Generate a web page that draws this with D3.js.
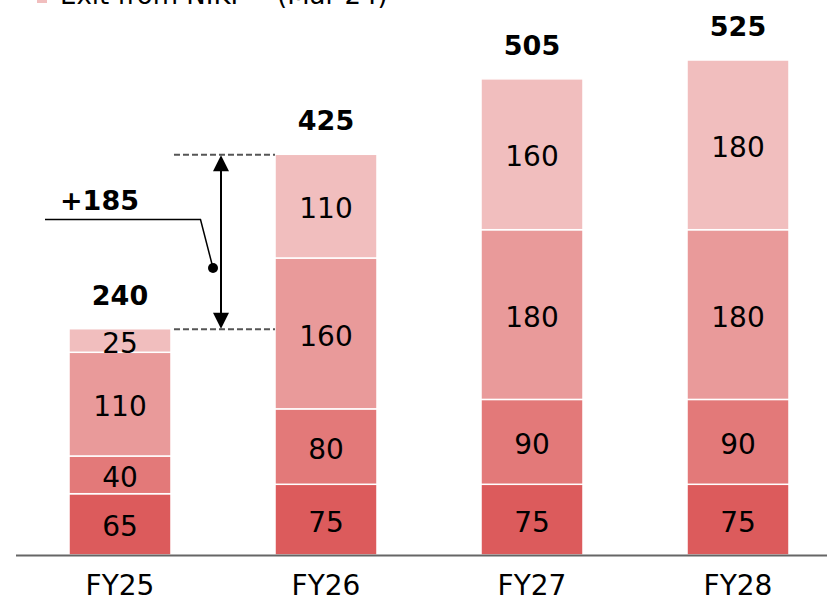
<!DOCTYPE html>
<html><head><meta charset="utf-8">
<script src="https://cdn.jsdelivr.net/npm/d3@7"></script>
<style>html,body{margin:0;padding:0;background:#fff;}svg{display:block;}</style>
</head><body>
<svg id="c" width="827" height="600"></svg>
<script>
const categories = ["FY25", "FY26", "FY27", "FY28"];
const seriesNames = ["s1", "s2", "s3", "Exit from NIKI"];
const s1 = [65, 75, 75, 75];
const s2 = [40, 80, 90, 90];
const s3 = [110, 160, 180, 180];
const s4 = [25, 110, 160, 180];
const totals = [240, 425, 505, 525];
const deltaLabel = "+185";
const legendLabel = "Exit from NIKI";
const legendNote = "(Mar 24)";
const colors = ["#dc5b5c", "#e37979", "#e99a9a", "#f1bebe"];

const svg = d3.select("#c");
const font = "'DejaVu Sans', Verdana, sans-serif";
const rows = categories.map((c, i) => ({cat: c, s1: s1[i], s2: s2[i], s3: s3[i], s4: s4[i]}));
const stack = d3.stack().keys(["s1", "s2", "s3", "s4"])(rows);

const x = d3.scaleBand().domain(categories).range([17, 841]).paddingInner(0.505).paddingOuter(0.2525);
const y = d3.scaleLinear().domain([0, 525]).range([555, 60]);

// bars
const g = svg.append("g");
stack.forEach((layer, li) => {
  g.selectAll(null).data(layer).enter().append("rect")
    .attr("x", d => x(d.data.cat))
    .attr("width", x.bandwidth())
    .attr("y", d => y(d[1]))
    .attr("height", d => y(d[0]) - y(d[1]))
    .attr("fill", colors[li])
    .attr("stroke", "#fff").attr("stroke-width", 1.5);
  g.selectAll(null).data(layer).enter().append("text")
    .attr("x", d => x(d.data.cat) + x.bandwidth() / 2)
    .attr("y", d => (y(d[0]) + y(d[1])) / 2 + 2)
    .attr("dy", "0.36em")
    .attr("text-anchor", "middle")
    .style("font-family", font).style("font-size", "28px").attr("fill", "#000")
    .text(d => d[1] - d[0]);
});

// totals
svg.selectAll(null).data(categories).enter().append("text")
  .attr("x", c => x(c) + x.bandwidth() / 2)
  .attr("y", (c, i) => y(totals[i]) - 24)
  .attr("text-anchor", "middle")
  .style("font-family", font).style("font-size", "27px").style("font-weight", "bold")
  .text((c, i) => totals[i]);

// axis
svg.append("line").attr("x1", 16).attr("x2", 827).attr("y1", 555.5).attr("y2", 555.5)
  .attr("stroke", "#666").attr("stroke-width", 2);
svg.selectAll(null).data(categories).enter().append("text")
  .attr("x", c => x(c) + x.bandwidth() / 2)
  .attr("y", 595)
  .attr("text-anchor", "middle")
  .style("font-family", font).style("font-size", "28px")
  .text(c => c);

// annotation
const xa0 = x("FY25") + x.bandwidth() + 3, xa1 = x("FY26");
const yTop = y(totals[1]), yBot = y(totals[0]);
[yTop, yBot].forEach(yy => svg.append("line").attr("x1", xa0).attr("x2", xa1)
  .attr("y1", yy + 0.5).attr("y2", yy + 0.5)
  .attr("stroke", "#555").attr("stroke-width", 2).attr("stroke-dasharray", "6,3"));
const ax = 221;
svg.append("line").attr("x1", ax).attr("x2", ax).attr("y1", yTop + 14).attr("y2", yBot - 14)
  .attr("stroke", "#000").attr("stroke-width", 2);
svg.append("path").attr("d", `M${ax},${yTop + 1} L${ax - 8},${yTop + 17} L${ax + 8},${yTop + 17} Z`).attr("fill", "#000");
svg.append("path").attr("d", `M${ax},${yBot} L${ax - 8},${yBot - 16} L${ax + 8},${yBot - 16} Z`).attr("fill", "#000");
svg.append("polyline").attr("points", `45,219.5 200.5,219.5 213,268`)
  .attr("fill", "none").attr("stroke", "#000").attr("stroke-width", 1.5);
svg.append("circle").attr("cx", 213).attr("cy", 268).attr("r", 5).attr("fill", "#000");
svg.append("text").attr("x", 60).attr("y", 210)
  .style("font-family", font).style("font-size", "27px").style("font-weight", "bold")
  .text(deltaLabel);

// legend (partially cut)
svg.append("rect").attr("x", 37).attr("y", -8).attr("width", 10).attr("height", 11).attr("fill", colors[3]);
svg.append("text").attr("x", 60).attr("y", 4)
  .style("font-family", font).style("font-size", "26px").text(legendLabel);
svg.append("text").attr("x", 277).attr("y", 4)
  .style("font-family", font).style("font-size", "26px").text(legendNote);
</script>
</body></html>
